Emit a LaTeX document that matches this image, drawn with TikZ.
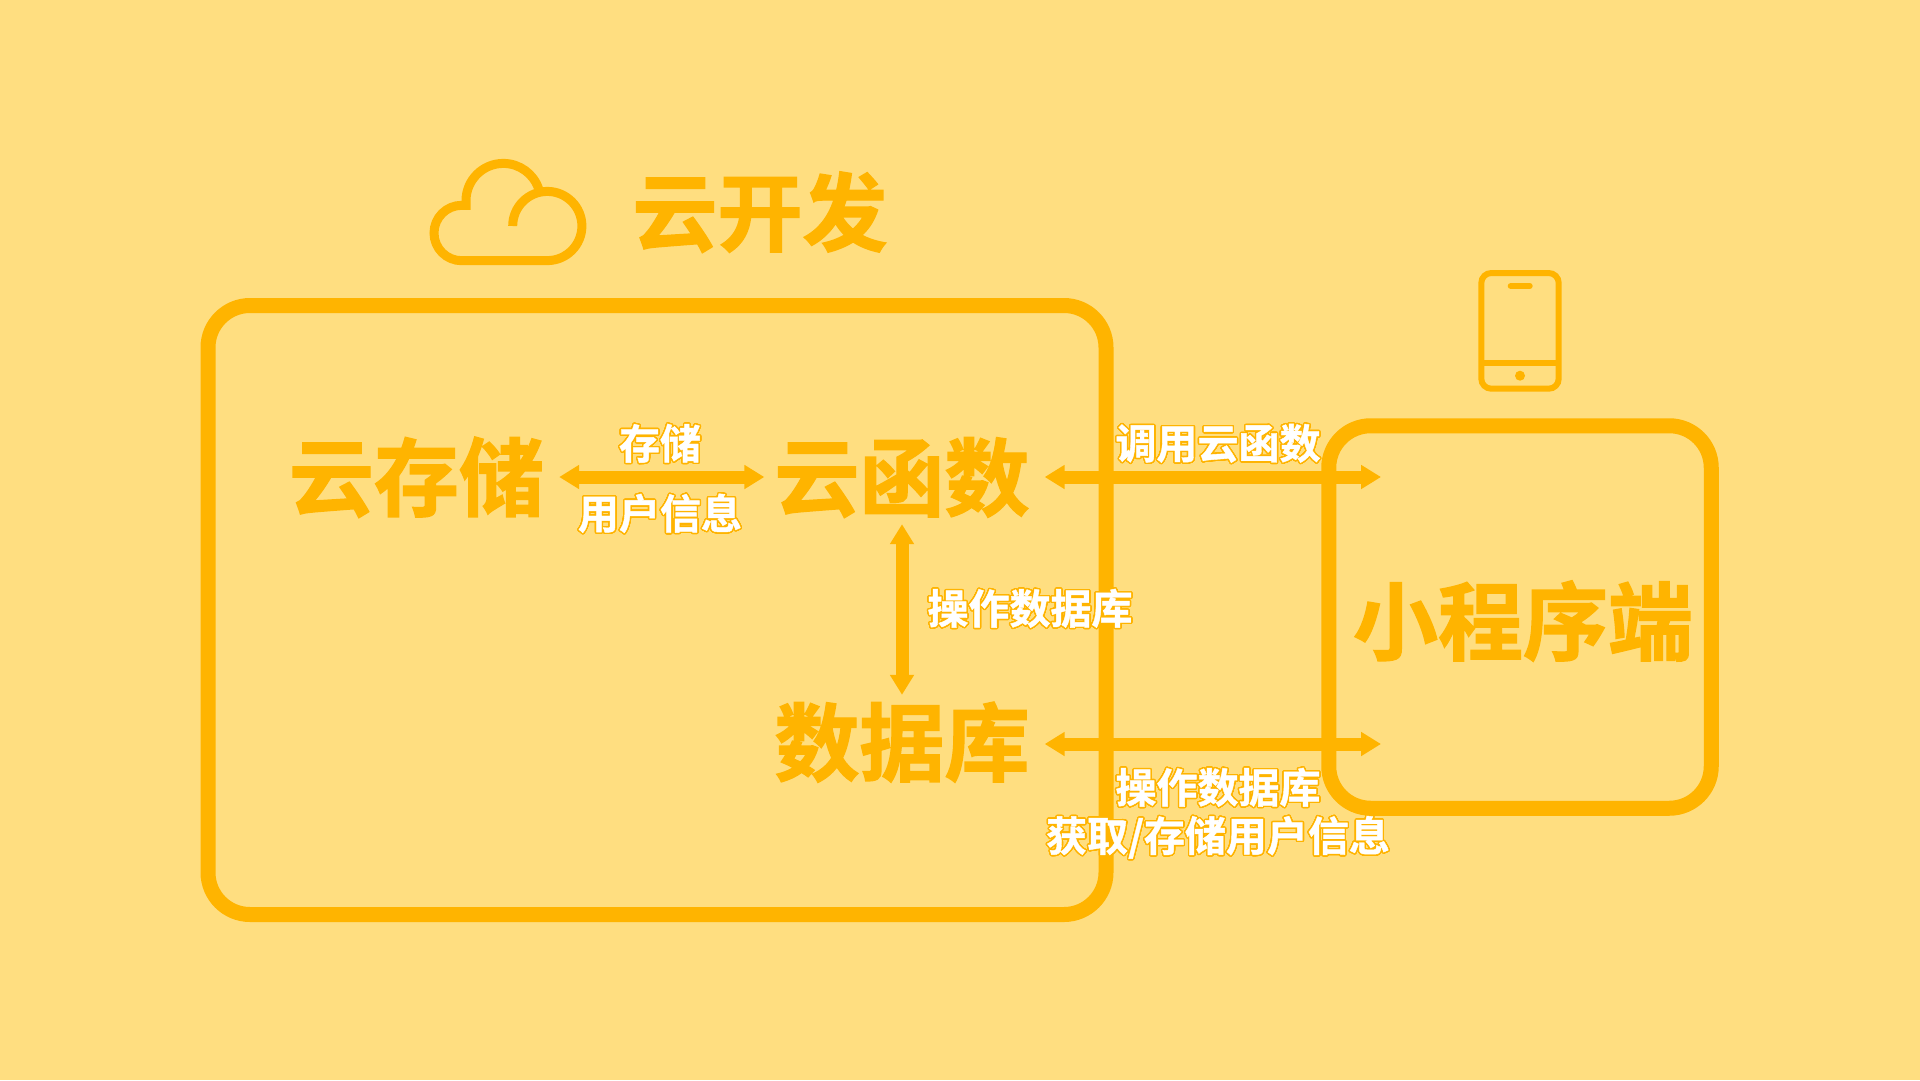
\documentclass[tikz,border=0pt]{standalone}
\usepackage{fontspec}
\usepackage[copies]{contour}
\usetikzlibrary{arrows.meta}
\setmainfont[FakeBold=1.6]{Noto Sans CJK SC Bold}
\newfontfamily\labelfont[FakeBold=1]{Noto Sans CJK SC Bold}
\definecolor{paper}{HTML}{FFDE80}
\definecolor{amber}{HTML}{FFB400}
\contourlength{1.4pt}
\contournumber{32}
\newcommand{\whitelabel}[1]{\contour{amber}{\textcolor{white}{#1}}}
\tikzset{
  panel/.style={draw=amber,line width=15pt,rounded corners=42pt,inner sep=0pt},
  bigname/.style={text=amber,font=\fontsize{85}{85}\selectfont,text height=75pt,text depth=10pt,inner xsep=15pt,inner ysep=4.5pt},
  smalllabel/.style={font=\labelfont\fontsize{41}{47}\selectfont,inner sep=0pt,align=center},
  biarrow/.style={draw=amber,line width=13pt,{Triangle[length=20pt,width=23pt]}-{Triangle[length=20pt,width=23pt]}},
  iconline/.style={draw=amber,line width=9pt}
}
\begin{document}
\begin{tikzpicture}[x=1pt,y=-1pt]
  \fill[paper] (0,0) rectangle (1920,1080);
  \useasboundingbox (0,0) rectangle (1920,1080);

  % the two frames
  \node[panel,minimum width=898pt,minimum height=609pt] (yunkaifa) at (657,610) {};
  \node[panel,minimum width=382.5pt,minimum height=382.5pt] (duan) at (1520,617) {};

  % titles
  \node[bigname] (kaifa) at (760,212) {云开发};
  \node[bigname] (yuncunchu) at (416.5,477) {云存储};
  \node[bigname] (yunhanshu) at (902,477) {云函数};
  \node[bigname] (shujuku) at (902,742) {数据库};
  \node[bigname] (xiaochengxu) at (1523,621) {小程序端};

  % cloud
  \draw[iconline] (512.7,226) arc (180:-90:34.6pt) -- (461.7,260.7)
    arc (270:90:27.7pt) -- (466,205.3) -- (466,200.7) arc (180:18:37.3pt);

  % phone
  \draw[draw=amber,line width=6pt,rounded corners=10pt] (1481.3,273) rectangle (1558.7,388.7);
  \draw[draw=amber,line width=6pt] (1481.3,363.3) -- (1558.7,363.3);
  \draw[draw=amber,line width=6pt,line cap=round] (1510.7,286) -- (1529.7,286);
  \fill[amber] (1520,375.7) circle (5pt);

  % arrows
  \coordinate (diaoyong) at (1381,477);
  \coordinate (caozuo) at (1381,744);
  \draw[biarrow,shorten >=-5pt] (yuncunchu.east) -- (yunhanshu.west);
  \draw[biarrow] (yunhanshu.south) -- (shujuku.north);
  \draw[biarrow] (yunhanshu.east) -- (diaoyong);
  \draw[biarrow] (shujuku.east |- caozuo) -- (caozuo);

  % labels
  \node[smalllabel] (cunchu) at (660,444) {\whitelabel{存储}};
  \node[smalllabel] (yonghu) at (660,514) {\whitelabel{用户信息}};
  \node[smalllabel] (caoshu) at (1030,609) {\whitelabel{操作数据库}};
  \node[smalllabel] (tiaoyong) at (1218,444) {\whitelabel{调用云函数}};
  \node[smalllabel] (caoshutwo) at (1218,788) {\whitelabel{操作数据库}};
  \node[smalllabel] (huoqu) at (1218,838) {\whitelabel{获取/存储用户信息}};
\end{tikzpicture}
\end{document}
